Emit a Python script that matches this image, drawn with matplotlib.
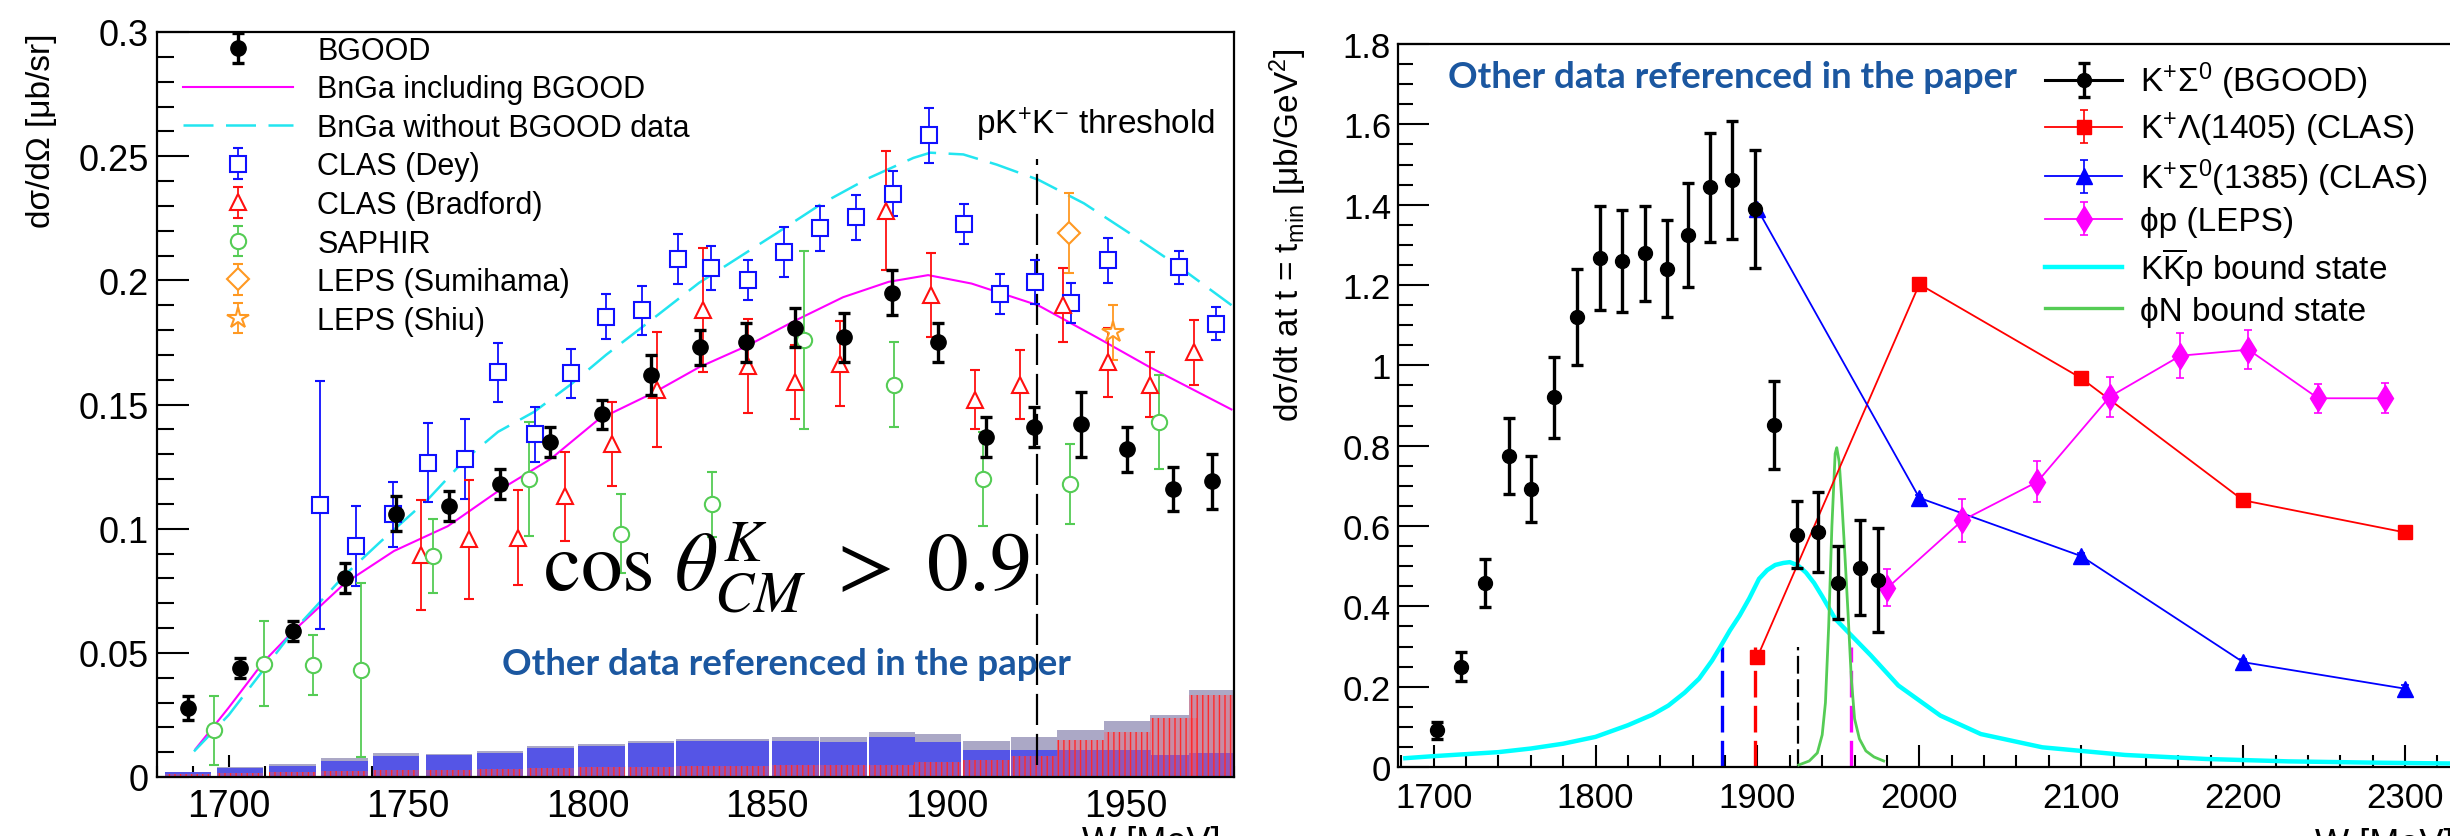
import numpy as np
import matplotlib.pyplot as plt
from matplotlib.lines import Line2D
from matplotlib.ticker import MultipleLocator, FuncFormatter
from matplotlib.legend_handler import HandlerTuple

plt.switch_backend('Agg')
plt.rcParams['font.family'] = ['Liberation Sans', 'DejaVu Sans']
plt.rcParams['mathtext.fontset'] = 'custom'
plt.rcParams['mathtext.rm'] = 'Liberation Sans'
plt.rcParams['mathtext.it'] = 'Liberation Sans:italic'
plt.rcParams['mathtext.bf'] = 'Liberation Sans:bold'
plt.rcParams['hatch.linewidth'] = 1.0

# ---------------- left panel data: K+Sigma0, cos theta > 0.9 ----------------
bgood_w = [1688.6, 1703.1, 1717.8, 1732.3, 1746.6, 1761.3, 1775.5, 1789.6, 1803.9, 1817.6, 1831.2,
           1844.1, 1857.8, 1871.3, 1884.7, 1897.5, 1911.0, 1924.3, 1937.3, 1950.3, 1963.1, 1974.0]
bgood_y = [0.0278, 0.044, 0.0589, 0.080, 0.106, 0.109, 0.118, 0.135, 0.146, 0.162, 0.173,
           0.175, 0.181, 0.177, 0.195, 0.175, 0.137, 0.141, 0.142, 0.132, 0.116, 0.119]
bgood_err = [0.005, 0.004, 0.004, 0.006, 0.007, 0.006, 0.006, 0.006, 0.006, 0.008, 0.007,
             0.008, 0.008, 0.010, 0.009, 0.008, 0.008, 0.008, 0.013, 0.009, 0.009, 0.011]

# systematic bands per BGOOD bin
sys_total = [0.0021, 0.0041, 0.0052, 0.0075, 0.0095, 0.0093, 0.0103, 0.0123, 0.0133, 0.0144, 0.0153,
             0.0153, 0.0162, 0.0160, 0.0183, 0.0172, 0.0144, 0.0161, 0.0191, 0.0224, 0.0251, 0.0352]
sys_blue = [0.0019, 0.0035, 0.0046, 0.0066, 0.0086, 0.0088, 0.0095, 0.0115, 0.0123, 0.0137, 0.0146,
            0.0146, 0.0146, 0.0142, 0.0160, 0.0141, 0.0108, 0.0108, 0.0108, 0.0108, 0.0090, 0.0098]
sys_red = [0.0012, 0.0015, 0.0020, 0.0025, 0.0030, 0.0030, 0.0032, 0.0035, 0.0040, 0.0042, 0.0045,
           0.0045, 0.0047, 0.0047, 0.0050, 0.0060, 0.0070, 0.0085, 0.0150, 0.0180, 0.0238, 0.0332]

dey_w = [1725.3, 1735.5, 1745.8, 1755.6, 1765.7, 1775.0, 1785.2, 1795.2, 1805.0, 1815.0, 1825.0, 1834.4,
         1844.5, 1854.6, 1864.7, 1874.8, 1885.0, 1895.0, 1904.9, 1914.8, 1924.5, 1934.7, 1944.9, 1964.8, 1974.9]
dey_y = [0.1095, 0.093, 0.1058, 0.1266, 0.128, 0.1629, 0.138, 0.1625, 0.1854, 0.1879, 0.2087, 0.205,
         0.200, 0.2115, 0.221, 0.2254, 0.2349, 0.2584, 0.2227, 0.1946, 0.1993, 0.1908, 0.2081, 0.2052, 0.1826]
dey_err = [0.050, 0.016, 0.013, 0.016, 0.016, 0.012, 0.011, 0.010, 0.009, 0.010, 0.010, 0.009,
           0.008, 0.010, 0.009, 0.009, 0.009, 0.011, 0.008, 0.008, 0.009, 0.008, 0.009, 0.0065, 0.0068]

brad_w = [1753.5, 1766.9, 1780.5, 1793.7, 1806.7, 1819.4, 1832.0, 1844.7, 1857.6, 1870.2, 1883.2,
          1895.7, 1907.9, 1920.3, 1932.4, 1944.9, 1956.7, 1968.8]
brad_y = [0.0894, 0.0957, 0.0964, 0.113, 0.134, 0.156, 0.188, 0.1656, 0.159, 0.1665, 0.228,
          0.194, 0.152, 0.158, 0.190, 0.167, 0.158, 0.171]
brad_err = [0.022, 0.024, 0.019, 0.018, 0.017, 0.023, 0.025, 0.019, 0.015, 0.017, 0.024,
            0.017, 0.012, 0.014, 0.015, 0.014, 0.013, 0.013]

saphir_w = [1695.9, 1709.7, 1723.4, 1736.8, 1756.9, 1783.6, 1809.2, 1834.6, 1860.1, 1885.2, 1910.1, 1934.4, 1959.1]
saphir_y = [0.0188, 0.0457, 0.045, 0.043, 0.089, 0.120, 0.098, 0.1098, 0.176, 0.158, 0.120, 0.118, 0.143]
saphir_err = [0.014, 0.017, 0.012, 0.035, 0.015, 0.023, 0.016, 0.013, 0.036, 0.017, 0.019, 0.016, 0.019]

sumihama_w = [1933.9]
sumihama_y = [0.219]
sumihama_err = [0.016]

shiu_w = [1946.3]
shiu_y = [0.179]
shiu_err = [0.011]

bnga_incl_w = [1690.7, 1700.0, 1709.7, 1717.8, 1732.3, 1746.0, 1761.0, 1775.9, 1789.6, 1803.0, 1818.4,
               1831.0, 1844.5, 1857.8, 1871.1, 1883.8, 1894.8, 1906.9, 1925.5, 1941.7, 1956.7, 1979.3]
bnga_incl_y = [0.0112, 0.028, 0.0464, 0.0585, 0.078, 0.091, 0.101, 0.116, 0.128, 0.144, 0.1548,
               0.165, 0.1737, 0.1838, 0.1932, 0.1994, 0.2021, 0.1987, 0.1899, 0.1771, 0.1649, 0.148]

bnga_excl_w = [1690.3, 1700.0, 1717.8, 1732.3, 1742.3, 1755.6, 1765.9, 1775.0, 1785.0, 1795.2, 1805.1,
               1815.0, 1831.0, 1852.6, 1865.3, 1878.0, 1890.7, 1895.4, 1904.6, 1913.9, 1925.5, 1938.2,
               1950.9, 1964.8, 1979.3]
bnga_excl_y = [0.0103, 0.025, 0.0585, 0.0813, 0.0948, 0.112, 0.128, 0.139, 0.147, 0.158, 0.170,
               0.181, 0.199, 0.219, 0.231, 0.241, 0.2493, 0.2514, 0.2507, 0.2466, 0.2405, 0.231,
               0.219, 0.2054, 0.190]

threshold_w = 1925.0
threshold_span = (0.005, 0.249)

# ---------------- right panel data: dsigma/dt at t_min ----------------
ks_w = [1702.3, 1717.1, 1731.6, 1746.3, 1760.4, 1774.4, 1788.4, 1802.5, 1816.5, 1830.5, 1844.1,
        1857.4, 1870.8, 1884.4, 1898.2, 1910.1, 1924.6, 1937.4, 1949.8, 1963.3, 1974.2]
ks_y = [0.091, 0.250, 0.458, 0.774, 0.692, 0.920, 1.121, 1.267, 1.260, 1.279, 1.241,
        1.324, 1.443, 1.462, 1.389, 0.852, 0.578, 0.585, 0.459, 0.496, 0.465]
ks_err = [0.022, 0.036, 0.060, 0.095, 0.083, 0.100, 0.120, 0.130, 0.127, 0.118, 0.120,
          0.129, 0.136, 0.147, 0.147, 0.110, 0.083, 0.100, 0.090, 0.118, 0.130]

lam_w = [1900, 2000, 2100, 2200, 2300]
lam_y = [0.274, 1.202, 0.968, 0.664, 0.584]
lam_err = [0.008, 0.008, 0.008, 0.008, 0.008]

sig_w = [1900, 2000, 2100, 2200, 2300]
sig_y = [1.389, 0.670, 0.525, 0.261, 0.195]
sig_err = [0.008, 0.008, 0.008, 0.008, 0.008]

phi_w = [1980.3, 2026.6, 2072.9, 2117.7, 2161.3, 2203.3, 2246.3, 2287.8]
phi_y = [0.446, 0.614, 0.710, 0.922, 1.024, 1.039, 0.918, 0.918]
phi_err = [0.046, 0.054, 0.051, 0.050, 0.056, 0.049, 0.036, 0.037]

kkp_w = [1682.5, 1700, 1740, 1760, 1780, 1800, 1820, 1835, 1845, 1855, 1864, 1872, 1877, 1883, 1889,
         1895, 1901, 1906, 1911, 1916, 1920, 1925, 1930, 1935, 1940, 1948, 1955, 1970, 1987, 2013,
         2038, 2076, 2127, 2177, 2228, 2278, 2321, 2350]
kkp_y = [0.022, 0.027, 0.037, 0.046, 0.058, 0.075, 0.104, 0.130, 0.153, 0.185, 0.220, 0.265, 0.2985,
         0.340, 0.377, 0.420, 0.4685, 0.490, 0.503, 0.508, 0.510, 0.502, 0.484, 0.458, 0.425, 0.369,
         0.340, 0.278, 0.203, 0.128, 0.082, 0.049, 0.030, 0.020, 0.014, 0.011, 0.009, 0.008]

phin_w = [1925.5, 1932, 1937, 1940, 1942, 1944, 1946, 1948, 1949, 1950.5, 1952, 1954, 1956, 1958,
          1960, 1963, 1967, 1972, 1978]
phin_y = [0.005, 0.015, 0.035, 0.080, 0.160, 0.350, 0.600, 0.780, 0.795, 0.760, 0.670, 0.530,
          0.380, 0.220, 0.120, 0.070, 0.040, 0.025, 0.015]

thr_w = [1878.2, 1898.8, 1925.3, 1957.7]
thr_colors = ['#0000ff', '#ff0000', '#000000', '#ff00ff']
thr_top = 0.2985

# ---------------- figure ----------------
W, H = 2450, 837
fig = plt.figure(figsize=(W / 100, H / 100), dpi=100)


def box(x0, y0, x1, y1):
    # pixel box (top-left origin) -> figure fraction
    return [x0 / W, 1 - y1 / H, (x1 - x0) / W, (y1 - y0) / H]


axL = fig.add_axes(box(157, 33, 1234, 778))
axR = fig.add_axes(box(1398, 45, 2486, 768))

fmt_g = FuncFormatter(lambda v, p: '%g' % round(v, 4))

for ax in (axL, axR):
    for s in ax.spines.values():
        s.set_linewidth(1.6)
    ax.tick_params(which='both', direction='in', top=False, right=False, width=1.5)
    ax.yaxis.set_major_formatter(fmt_g)
    ax.set_axisbelow(True)

# ---- left panel ----
axL.set_xlim(1680, 1980)
axL.set_ylim(0, 0.3)
axL.xaxis.set_major_locator(MultipleLocator(50))
axL.xaxis.set_minor_locator(MultipleLocator(10))
axL.yaxis.set_major_locator(MultipleLocator(0.05))
axL.yaxis.set_minor_locator(MultipleLocator(0.01))
axL.tick_params(axis='y', which='major', length=23, labelsize=26, pad=6)
axL.tick_params(axis='y', which='minor', length=12)
axL.tick_params(axis='x', which='major', length=16, labelsize=27, pad=8)
axL.tick_params(axis='x', which='minor', length=8)

bw = 13.0
axL.bar(bgood_w, sys_total, width=bw, color='#aba8c6', linewidth=0, zorder=1)
axL.bar(bgood_w, sys_blue, width=bw, color='#5555e6', linewidth=0, zorder=1.1)
axL.bar(bgood_w, sys_red, width=bw, facecolor=(1, 0.35, 0.4, 0.35), edgecolor='#ff2a2a',
        hatch='|||', linewidth=0, zorder=1.2)

axL.plot(bnga_incl_w, bnga_incl_y, color='#ff00ff', lw=1.5, zorder=3)
axL.plot(bnga_excl_w, bnga_excl_y, color='#22e5f0', lw=1.8, dashes=(12, 5), zorder=3)
axL.vlines(threshold_w, *threshold_span, color='black', lw=1.6, linestyles=(0, (14, 4)), zorder=3)

eb_kw = dict(ls='none', mew=1.5, elinewidth=1.3, capsize=3.5, capthick=1.3, zorder=5)
h_dey = axL.errorbar(dey_w, dey_y, yerr=dey_err, marker='s', ms=11, color='#1010ff', mfc='white', **eb_kw)
h_brad = axL.errorbar(brad_w, brad_y, yerr=brad_err, marker='^', ms=12, color='#ff1010', mfc='white', **eb_kw)
h_sap = axL.errorbar(saphir_w, saphir_y, yerr=saphir_err, marker='o', ms=11, color='#55cc55', mfc='white', **eb_kw)
h_sum = axL.errorbar(sumihama_w, sumihama_y, yerr=sumihama_err, marker='D', ms=11, color='#ff9922', mfc='white', **eb_kw)
h_shiu = axL.errorbar(shiu_w, shiu_y, yerr=shiu_err, marker='*', ms=16, color='#ff9922', mfc='white', **eb_kw)
h_bg = axL.errorbar(bgood_w, bgood_y, yerr=bgood_err, fmt='o', ms=11, color='black',
                    elinewidth=2.4, capsize=4, capthick=2.4, zorder=6)

h_incl = Line2D([], [], color='#ff00ff', lw=1.5)
h_excl = Line2D([], [], color='#22e5f0', lw=1.8, dashes=(12, 5))
axL.legend([h_bg, h_incl, h_excl, h_dey, h_brad, h_sap, h_sum, h_shiu],
           ['BGOOD', 'BnGa including BGOOD', 'BnGa without BGOOD data', 'CLAS (Dey)',
            'CLAS (Bradford)', 'SAPHIR', 'LEPS (Sumihama)', 'LEPS (Shiu)'],
           loc='upper left', bbox_to_anchor=(0.024, 0.995), frameon=False, fontsize=22,
           handlelength=3.6, handletextpad=0.8, labelspacing=0.28, borderpad=0, borderaxespad=0)

axL.text(1908, 0.263, 'pK$^{+}$K$^{-}$ threshold', fontsize=24, va='center', ha='left')
axL.text(1923, 0.0753, r'$\cos\,\theta^{K}_{CM}\ >\ 0.9$', math_fontfamily='stix',
         fontsize=60, ha='right', va='baseline', zorder=7)
axL.text(1776, 0.0457, 'Other data referenced in the paper', color='#1b57a0', fontsize=26.5,
         fontweight='bold', family=['Lato', 'DejaVu Sans'], va='center', ha='left', zorder=7)

fig.text(42 / W, 1 - 33 / H, 'dσ/dΩ [μb/sr]', rotation=90, ha='center', va='top', fontsize=24)
fig.text(1082 / W, 1 - 826 / H, 'W [MeV]', ha='left', va='top', fontsize=26)

# ---- right panel ----
axR.set_xlim(1678, 2350)
axR.set_ylim(0, 1.8)
axR.xaxis.set_major_locator(MultipleLocator(100))
axR.xaxis.set_minor_locator(MultipleLocator(20))
axR.yaxis.set_major_locator(MultipleLocator(0.2))
axR.yaxis.set_minor_locator(MultipleLocator(0.05))
axR.tick_params(axis='y', which='major', length=22, labelsize=25, pad=5)
axR.tick_params(axis='y', which='minor', length=11)
axR.tick_params(axis='x', which='major', length=16, labelsize=25, pad=10)
axR.tick_params(axis='x', which='minor', length=9)

axR.vlines(thr_w, 0, thr_top, colors=thr_colors, lw=[2.4, 2.4, 1.6, 2.4],
           linestyles=(0, (8, 2.5)), zorder=2)
axR.plot(kkp_w, kkp_y, color='#00ffff', lw=3.2, zorder=3)
axR.plot(phin_w, phin_y, color='#55cc55', lw=2.0, zorder=3)

r_kw = dict(lw=1.3, elinewidth=1.2, capsize=3, capthick=1.2, zorder=4)
h_lam = axR.errorbar(lam_w, lam_y, yerr=lam_err, fmt='-s', ms=10, color='#ff0000', **r_kw)
h_sig = axR.errorbar(sig_w, sig_y, yerr=sig_err, fmt='-^', ms=12, color='#0000ff', **r_kw)
h_phi = axR.errorbar(phi_w, phi_y, yerr=phi_err, fmt='-d', ms=13, color='#ff00ff', **r_kw)
h_ks = axR.errorbar(ks_w, ks_y, yerr=ks_err, fmt='o', ms=10, color='black',
                    elinewidth=2.4, capsize=4, capthick=2.4, zorder=6)

h_ks_line = Line2D([], [], color='black', lw=2.2)
h_kkp = Line2D([], [], color='#00ffff', lw=3.2)
h_phin = Line2D([], [], color='#55cc55', lw=2.4)
axR.legend([(h_ks_line, h_ks), h_lam, h_sig, h_phi, h_kkp, h_phin],
           [r'K$^{+}\Sigma^{0}$ (BGOOD)', r'K$^{+}\Lambda$(1405) (CLAS)',
            r'K$^{+}\Sigma^{0}$(1385) (CLAS)', 'ϕp (LEPS)',
            r'K$\overline{\mathrm{K}}$p bound state', 'ϕN bound state'],
           handler_map={tuple: HandlerTuple(ndivide=1)},
           loc='upper left', bbox_to_anchor=(0.595, 0.978), frameon=False, fontsize=24,
           handlelength=2.3, handletextpad=0.55, labelspacing=0.25, borderpad=0, borderaxespad=0)

axR.text(1708.7, 1.72, 'Other data referenced in the paper', color='#1b57a0', fontsize=26.5,
         fontweight='bold', family=['Lato', 'DejaVu Sans'], va='center', ha='left')

fig.text(1288 / W, 1 - 48 / H, r'dσ/dt at t = t$_{\mathrm{min}}$ [μb/GeV$^{2}$]',
         rotation=90, ha='center', va='top', fontsize=24)
fig.text(2315 / W, 1 - 828 / H, 'W [MeV]', ha='left', va='top', fontsize=26)

fig.savefig('out.png', dpi=100)
